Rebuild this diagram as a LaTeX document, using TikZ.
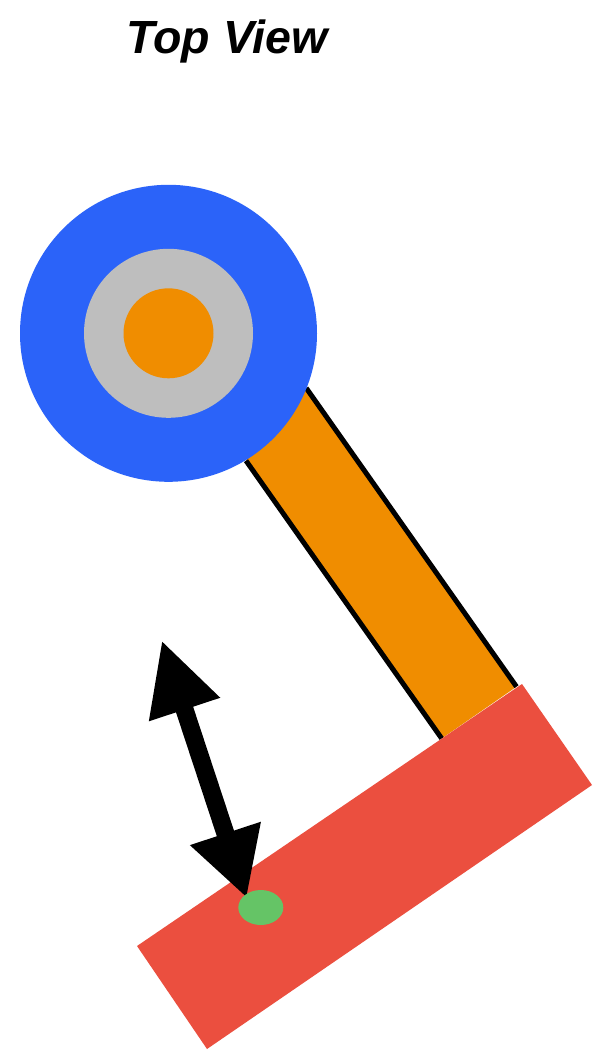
\documentclass[tikz,border=0pt]{standalone}
\usepackage{fontspec}
\setmainfont{Liberation Sans}
\usetikzlibrary{arrows.meta,shapes.geometric}
\definecolor{hubblue}{HTML}{2B63F9}
\definecolor{armorange}{HTML}{F08D00}
\definecolor{hubgray}{HTML}{BEBEBE}
\definecolor{headred}{HTML}{EB4F3F}
\definecolor{dotgreen}{HTML}{65C466}
\tikzset{
  disc/.style={circle,draw=none,inner sep=0pt,outer sep=0pt,minimum size=#1},
  armedge/.style={draw=black,line width=5pt,line cap=butt},
  motion/.style={line width=18pt,draw=black,
    {Triangle[length=73pt,width=69.5pt]}-{Triangle[length=68pt,width=69.5pt]}},
  titletext/.style={font=\fontsize{46.5}{50}\selectfont\bfseries\itshape,text=black,inner sep=0pt}
}
\begin{document}
\begin{tikzpicture}[x=1pt,y=-1pt]
\useasboundingbox[fill=white] (0,0) rectangle (599,1053);
\node[titletext] (title) at (227,41) {Top View};
% arm
\coordinate (armTR) at (306.2,388);
\coordinate (armBR) at (516.5,686.7);
\coordinate (armTL) at (246,460.7);
\coordinate (armBL) at (441.7,738.5);
\fill[armorange] (armTL) -- (armTR) -- (armBR) -- (armBL) -- cycle;
\draw[armedge] (armTR) -- (armBR);
\draw[armedge] (armTL) -- (armBL);
% end plate
\fill[headred] (137,946) -- (207,1049) -- (592,785) -- (522,684) -- cycle;
% hub
\node[disc=297pt,fill=hubblue] (outer) at (168.5,333.3) {};
\node[disc=169pt,fill=hubgray] (middle) at (outer.center) {};
\node[disc=90pt,fill=armorange] (inner) at (outer.center) {};
% motion arrow
\coordinate (tipTop) at (161.7,640.2);
\coordinate (tipBottom) at (246.7,898);
\draw[motion] (tipTop) -- (tipBottom);
% contact point
\node[ellipse,fill=dotgreen,inner sep=0pt,outer sep=0pt,minimum width=45pt,minimum height=35pt] (dot) at (260.8,907.5) {};
\end{tikzpicture}
\end{document}
